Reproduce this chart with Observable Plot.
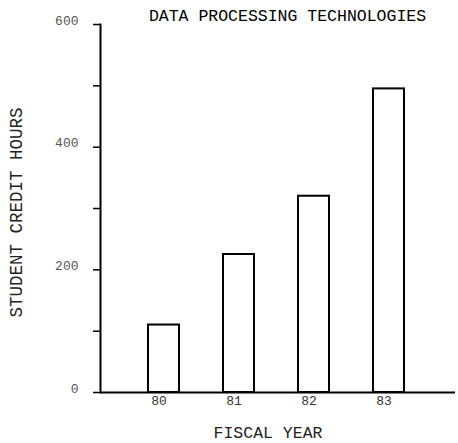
<!DOCTYPE html>
<html>
<head>
<meta charset="utf-8">
<script src="https://cdn.jsdelivr.net/npm/d3@7"></script>
<script src="https://cdn.jsdelivr.net/npm/@observablehq/plot@0.6"></script>
<style>
  html, body { margin: 0; padding: 0; background: #fff; }
</style>
</head>
<body>
<div id="chart"></div>
<script>
const years = ["80", "81", "82", "83"];
const hours = [110, 225, 320, 495];
const yTicks = [0, 100, 200, 300, 400, 500, 600];
const yLabels = [0, 200, 400, 600];
const title = "DATA PROCESSING TECHNOLOGIES";
const yTitle = "STUDENT CREDIT HOURS";
const xTitle = "FISCAL YEAR";

const data = years.map((y, i) => ({year: y, hours: hours[i]}));
const font = "Liberation Mono, DejaVu Sans Mono, monospace";

const chart = Plot.plot({
  width: 458,
  height: 443,
  marginLeft: 100,
  marginRight: 7,
  marginTop: 24,
  marginBottom: 51,
  style: {fontFamily: font, background: "#fff", color: "#000"},
  x: {domain: years, paddingInner: 0.59, paddingOuter: 0.605},
  y: {domain: [0, 600]},
  marks: [
    Plot.barY(data, {x: "year", y: "hours", fill: "#fff", stroke: "#000", strokeWidth: 2}),
    Plot.ruleY([0], {stroke: "#000", strokeWidth: 2, insetRight: -4}),
    Plot.frame({anchor: "left", stroke: "#000", strokeWidth: 2}),
    Plot.axisY(yTicks, {tickSize: 7, tickFormat: () => "", label: null, stroke: "#000", strokeWidth: 1.5}),
    Plot.axisY(yLabels, {tickSize: 0, tickPadding: 22, label: null, fontSize: 13, fill: "#555", dy: -4}),
    Plot.axisX({tickSize: 0, tickPadding: 3, label: null, fontSize: 13, fill: "#333", dx: -5}),
    Plot.text([title], {frameAnchor: "top", dy: -9, dx: 11.5, lineAnchor: "middle", fontSize: 16.5, fill: "#000"}),
    Plot.text([yTitle], {frameAnchor: "left", rotate: -90, textAnchor: "middle", dx: -84, dy: 4, lineAnchor: "middle", fontSize: 17.5, fill: "#222"}),
    Plot.text([xTitle], {frameAnchor: "bottom", dy: 40, dx: -8, lineAnchor: "middle", fontSize: 16.5, fill: "#222"})
  ]
});
document.getElementById("chart").appendChild(chart);
</script>
</body>
</html>
